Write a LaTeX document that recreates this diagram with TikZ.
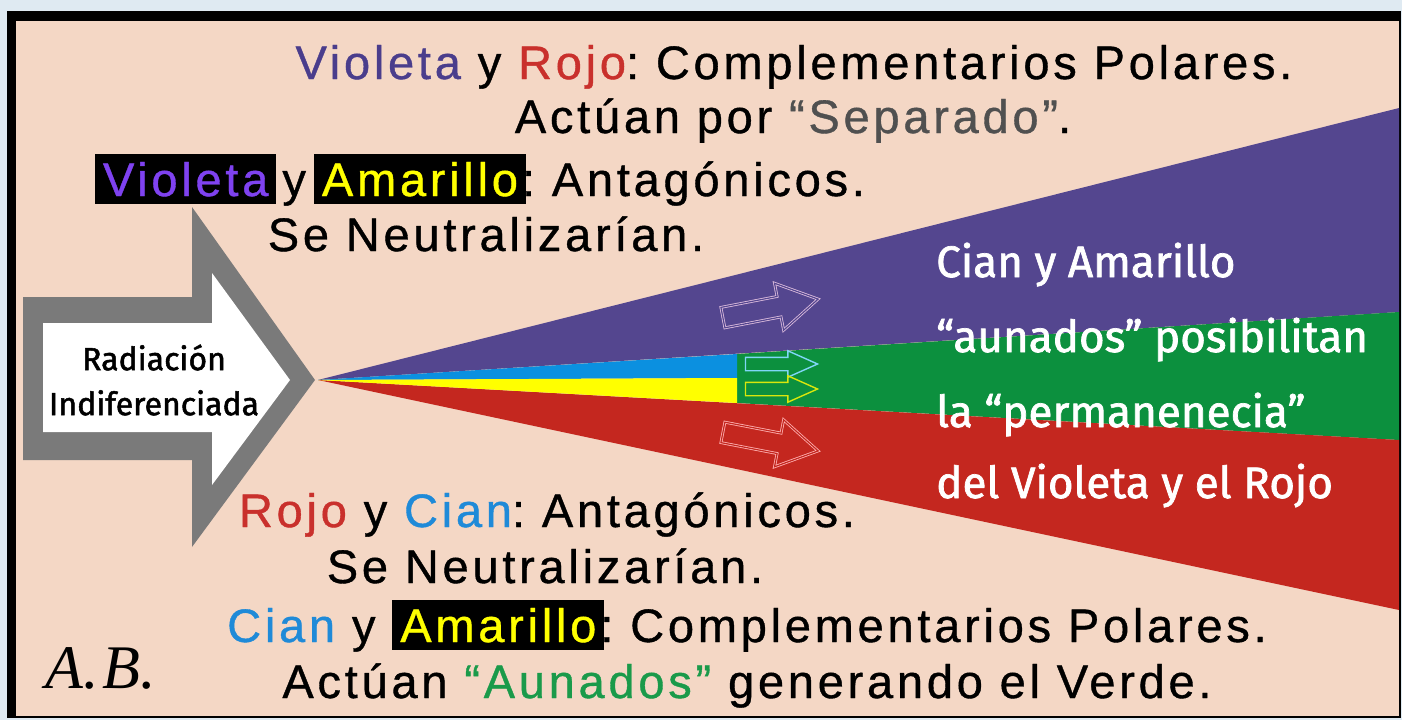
\documentclass[tikz,border=0pt]{standalone}
\usepackage{fontspec}
\setmainfont{Liberation Sans}
\newfontfamily\trackfont[LetterSpace=8,FakeBold=0.8]{Liberation Sans}
\newfontfamily\handfont[FakeBold=1.6]{Fira Sans}
\newfontfamily\initfont{Liberation Serif}
\usetikzlibrary{shapes.arrows}
\frenchspacing

\definecolor{skyback}{HTML}{DFEAF2}
\definecolor{peach}{HTML}{F4D7C5}
\definecolor{wedgeviolet}{HTML}{54468F}
\definecolor{wedgegreen}{HTML}{0C903E}
\definecolor{wedgered}{HTML}{C4271F}
\definecolor{wedgecyan}{HTML}{0B90E0}
\definecolor{wedgeyellow}{HTML}{FFFF00}
\definecolor{arrowgrey}{HTML}{7A7A7A}
\definecolor{txtviolet}{HTML}{4A3D8C}
\definecolor{txtred}{HTML}{C9302C}
\definecolor{txtgrey}{HTML}{505050}
\definecolor{boxviolet}{HTML}{7F42F0}
\definecolor{txtcyan}{HTML}{1F8AD8}
\definecolor{txtgreen}{HTML}{1A9A4A}

\newcommand\hlbox[2]{{\setlength\fboxsep{8pt}\colorbox{black}{\textcolor{#1}{#2}}}}

\tikzstyle{line}=[font=\trackfont\fontsize{47}{50}\selectfont, anchor=base, inner sep=0pt]
\tikzstyle{beam}=[text=white, font=\handfont\fontsize{44}{50}\selectfont, anchor=base west, inner sep=0pt]
\tikzstyle{ray}=[single arrow, inner xsep=0pt, inner ysep=10pt, minimum height=97pt, single arrow head extend=13.5pt, single arrow tip angle=62, line width=0.8pt, double distance=1.2pt]
\tikzstyle{thinray}=[single arrow, inner xsep=0pt, inner ysep=6pt, minimum height=72pt, single arrow head extend=6.5pt, single arrow tip angle=48, line width=1.4pt]

\begin{document}
\begin{tikzpicture}[x=1pt, y=-1pt]
			%Frame
			\fill[skyback] (0,0) rectangle (1402,720);
			\fill[black] (7,11) rectangle (1401,718);
			\fill[peach] (16,21) rectangle (1399,716);
			%The beams
			\coordinate (apex) at (318,380);
			\coordinate (vtop) at (1399,108);
			\coordinate (vbot) at (1399,312);
			\coordinate (rtop) at (1399,440);
			\coordinate (rbot) at (1399,610);
			\coordinate (ctop) at (737,354);
			\coordinate (cmid) at (737,378);
			\coordinate (cbot) at (737,403);
			\fill[wedgeviolet] (apex) -- (vtop) -- (vbot) -- cycle;
			\fill[wedgegreen] (ctop) -- (vbot) -- (rtop) -- (cbot) -- cycle;
			\fill[wedgered] (apex) -- (rtop) -- (rbot) -- cycle;
			\fill[wedgecyan] (apex) -- (ctop) -- (cmid) -- cycle;
			\fill[wedgeyellow] (apex) -- (cmid) -- (cbot) -- cycle;
			%Hollow arrows on the beams
			\node[ray, draw=violet!25!white, double=wedgeviolet, rotate=11] (vray) at (762,310) {};
			\node[ray, draw=red!30!white, double=wedgered, rotate=-11] (rray) at (762,440) {};
			\node[thinray, draw=cyan!50!white] (cray) at (774,364) {};
			\node[thinray, draw=yellow!85!green] (yray) at (774,389) {};
			%The big arrow
			\fill[arrowgrey] (23,297) -- (192,297) -- (192,207) -- (315,380) -- (192,547) -- (192,460) -- (23,460) -- cycle;
			\fill[white] (43,323) -- (212,323) -- (212,273) -- (290,380) -- (212,485) -- (212,432) -- (43,432) -- cycle;
			\node[font=\handfont\fontsize{32}{45}\selectfont, align=center, inner sep=0pt] (radiacion) at (154,380) {Radiación\\Indiferenciada};
			%Texts
			\node[line] (l1) at (794,79) {\textcolor{txtviolet}{Violeta} y \textcolor{txtred}{Rojo}: Complementarios Polares.};
			\node[line] (l2) at (793,133) {Actúan por \textcolor{txtgrey}{“Separado”}.};
			\node[line] (l3) at (480,196) {\hlbox{boxviolet}{Violeta}\hspace{6pt}y\hspace{8pt}\hlbox{wedgeyellow}{Amarillo}\hspace{-4pt}: Antagónicos.};
			\node[line] (l4) at (486,251) {Se Neutralizarían.};
			\node[line] (l5) at (547,527) {\textcolor{txtred}{Rojo} y \textcolor{txtcyan}{Cian}: Antagónicos.};
			\node[line] (l6) at (545,583) {Se Neutralizarían.};
			\node[line] (l7) at (747,642) {\textcolor{txtcyan}{Cian} y \hlbox{wedgeyellow}{Amarillo}\hspace{-4pt}: Complementarios Polares.};
			\node[line] (l8) at (747,698) {Actúan \textcolor{txtgreen}{“Aunados”} generando el Verde.};
			\node[font=\initfont\itshape\fontsize{62}{62}\selectfont, anchor=base west, inner sep=0pt] (ab) at (45,688) {A.\kern4pt B.};
			%White text on the beams
			\foreach \y/\txt in {277/{Cian y Amarillo}, 352/{“aunados” posibilitan},
									427/{la “permanenecia”}, 498/{del Violeta y el Rojo}}
			\node[beam] at (936,\y) {\txt};
\end{tikzpicture}
\end{document}
